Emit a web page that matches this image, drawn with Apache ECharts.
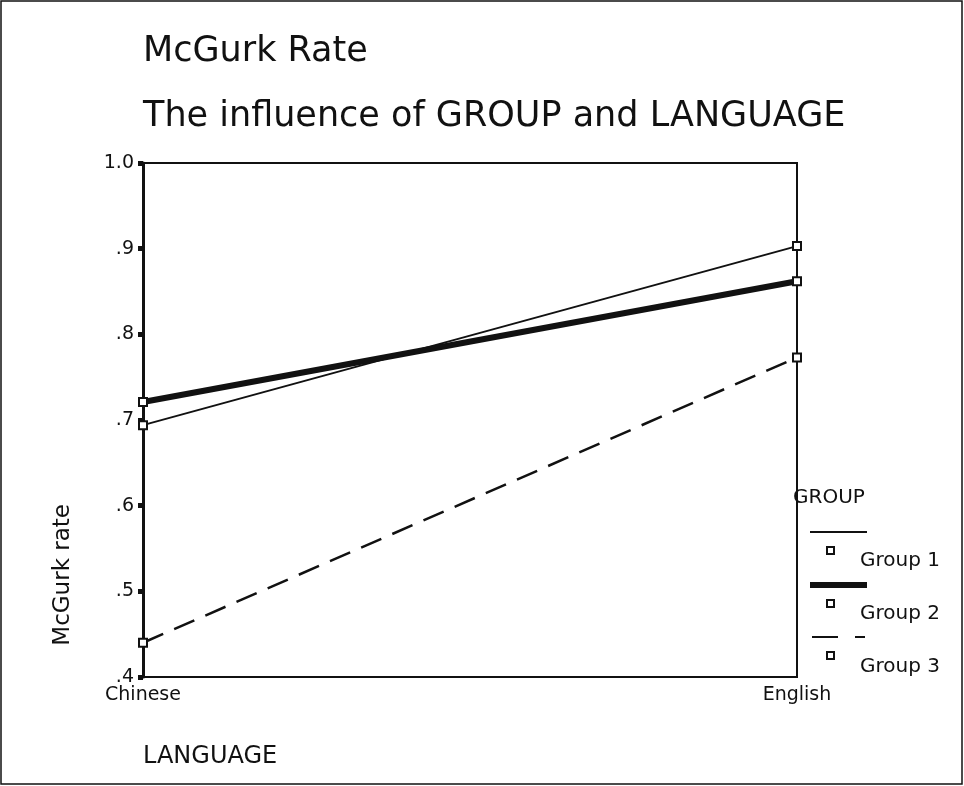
<!DOCTYPE html>
<html>
<head>
<meta charset="utf-8">
<script src="https://cdn.jsdelivr.net/npm/echarts@6/dist/echarts.min.js"></script>
<style>
  html, body { margin: 0; padding: 0; background: #fff; }
  #chart { width: 964px; height: 786px; }
</style>
</head>
<body>
<div id="chart"></div>
<script>
const languages = ["Chinese", "English"];
const groupNames = ["Group 1", "Group 2", "Group 3"];
const group1 = [0.694, 0.903];
const group2 = [0.721, 0.862];
const group3 = [0.44, 0.773];
const yTicks = [0.4, 0.5, 0.6, 0.7, 0.8, 0.9, 1.0];

const font = "DejaVu Sans, sans-serif";
const ink = "#111";

const chart = echarts.init(document.getElementById("chart"));

function series(name, data, width, type) {
  return {
    name,
    type: "line",
    data,
    symbol: "emptyRect",
    symbolSize: 8,
    showSymbol: true,
    clip: false,
    lineStyle: { width, color: ink, type },
    itemStyle: { color: ink, borderWidth: 2 },
    z: 3
  };
}

// legend drawn by hand: line sample, square, label
function legendItem(y, width, dashed) {
  const items = [];
  if (dashed) {
    items.push({ type: "line", shape: { x1: 812, y1: y, x2: 838, y2: y }, style: { stroke: ink, lineWidth: width } });
    items.push({ type: "line", shape: { x1: 855, y1: y, x2: 865, y2: y }, style: { stroke: ink, lineWidth: width } });
  } else {
    items.push({ type: "line", shape: { x1: 810, y1: y, x2: 867, y2: y }, style: { stroke: ink, lineWidth: width } });
  }
  items.push({ type: "rect", shape: { x: 827, y: y + 15, width: 7, height: 7 }, style: { fill: "#fff", stroke: ink, lineWidth: 2 } });
  return items;
}

const graphics = [
  { type: "rect", shape: { x: 1, y: 1, width: 961, height: 783 }, style: { fill: "none", stroke: ink, lineWidth: 1.5 }, silent: true },
  { type: "text", left: 143, top: 34, style: { text: "McGurk Rate", font: "35px " + font, fill: ink } },
  { type: "text", left: 143, top: 99, style: { text: "The influence of GROUP and LANGUAGE", font: "35px " + font, fill: ink } },
  { type: "text", left: 52, top: 504, rotation: Math.PI / 2, style: { text: "McGurk rate", font: "23px " + font, fill: ink } },
  { type: "text", left: 143, top: 745, style: { text: "LANGUAGE", font: "24px " + font, fill: ink } },
  { type: "text", left: 793, top: 488, style: { text: "GROUP", font: "20px " + font, fill: ink } }
];
graphics.push(...legendItem(532, 2, false), ...legendItem(585, 6, false), ...legendItem(637, 2, true));
groupNames.forEach((name, i) => {
  graphics.push({ type: "text", left: 860, top: 551 + i * 53, style: { text: name, font: "20px " + font, fill: ink } });
});

chart.setOption({
  animation: false,
  textStyle: { fontFamily: font, color: ink },
  grid: { left: 143, right: 167, top: 163, bottom: 109, show: true, borderColor: ink, borderWidth: 2 },
  xAxis: {
    type: "category",
    data: languages,
    boundaryGap: false,
    axisLine: { lineStyle: { color: ink, width: 2 } },
    axisTick: { show: false },
    axisLabel: { fontSize: 19, color: ink, margin: 9 },
    splitLine: { show: false }
  },
  yAxis: {
    type: "value",
    min: 0.4,
    max: 1.0,
    interval: 0.1,
    axisLine: { show: true, lineStyle: { color: ink, width: 3 } },
    axisTick: { show: true, length: 5, lineStyle: { color: ink, width: 5 } },
    axisLabel: {
      fontSize: 19,
      color: ink,
      margin: 9,
      formatter: (v) => {
        const t = yTicks.find((x) => Math.abs(x - v) < 1e-6);
        if (t === undefined) return "";
        return t >= 1 ? t.toFixed(1) : t.toFixed(1).replace(/^0/, "");
      }
    },
    splitLine: { show: false }
  },
  series: [
    series(groupNames[0], group1, 2, "solid"),
    series(groupNames[1], group2, 6, "solid"),
    series(groupNames[2], group3, 2.5, [22, 12])
  ],
  graphic: graphics
});
</script>
</body>
</html>
